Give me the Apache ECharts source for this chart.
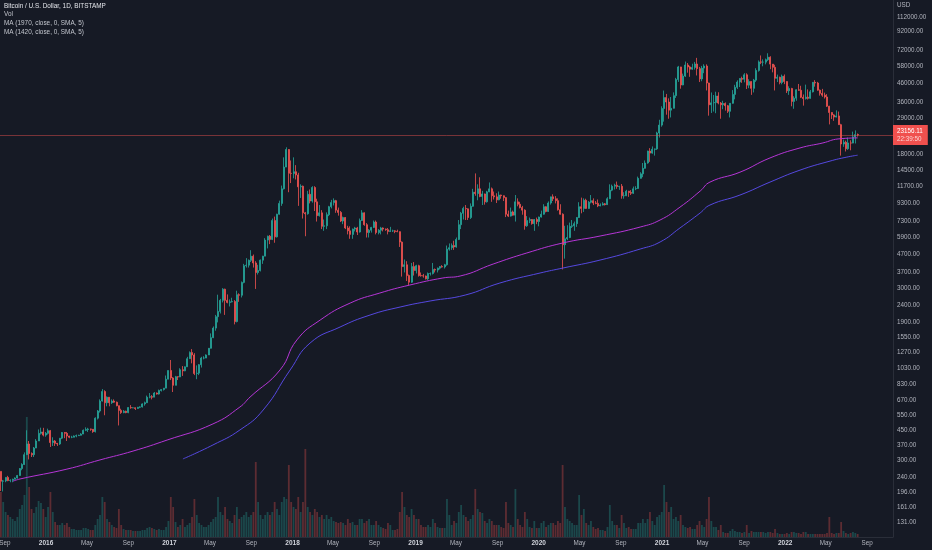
<!DOCTYPE html>
<html>
<head>
<meta charset="utf-8">
<title>Bitcoin / U.S. Dollar, 1D, BITSTAMP</title>
<script src="https://cdn.jsdelivr.net/npm/echarts@6/dist/echarts.min.js"></script>
<style>
  html, body { margin: 0; padding: 0; background: #161a25; }
  #chart { width: 932px; height: 550px; }
</style>
</head>
<body>
<div id="chart"></div>
<script>
// weekly candles, one per week from the week of 2015-08-17
const firstWeek = '2015-08-20';
const firstOpen = 260;

const close = [
  // 2015
  228,229,240,230,231,234,238,246,270,285,325,375,330,325,355,390,432,440,422,432,
  // 2016
  448,382,390,378,375,405,437,432,417,410,410,417,419,421,428,450,455,458,456,442,529,582,665,755,650,700,
  650,665,655,625,587,570,580,570,610,607,608,602,612,615,640,650,700,705,700,740,730,765,775,790,890,1000,
  // 2017
  905,820,920,917,1010,995,1050,1170,1270,1230,960,965,1080,1180,1180,1230,1345,1550,1760,2050,2200,2550,2960,2550,2480,2500,
  2510,1920,2750,2730,3240,4050,4080,4350,4600,4200,3700,3800,4360,4600,5700,6000,5750,7400,5950,8050,9300,11300,15100,19100,13900,13880,
  // 2018
  14200,13600,11600,11700,8200,8100,10500,9600,11500,9500,7900,8200,6850,6900,8000,8900,9400,9650,8500,8250,7350,7700,6700,6450,6150,6600,
  6700,6350,7400,8200,7000,6300,6500,6750,7250,6300,6500,6700,6600,6550,6400,6450,6450,6400,6380,5550,4000,4100,3550,3250,4000,3800,4050,
  // 2019
  3550,3540,3530,3400,3650,3650,3850,3820,3920,4000,3980,4100,5050,5150,5300,5200,5750,7000,8150,8700,8650,7700,8950,10800,10600,
  11300,10200,10550,9500,10850,11300,10300,10150,9750,10400,10300,10050,8050,7850,8300,7950,9500,9200,8800,8500,6900,7400,7500,7100,7500,7300,7750,
  // 2020
  8050,8900,8350,9350,10150,9900,9650,8550,8050,5360,5800,5900,6850,6900,7100,7700,8900,8700,9700,8700,9450,9650,9350,9300,9000,9100,
  9250,9150,9900,11100,11700,11850,11650,11700,10300,10300,10950,10750,10650,11300,11350,13000,13800,14850,15950,18700,18200,19150,19250,23800,26450,33000,
  // 2021
  38200,36000,32300,33100,39200,48600,57500,45200,50900,59000,57500,55800,57100,59800,56200,49000,56600,58200,46400,34700,35600,35800,39000,35500,34700,35300,
  34250,31800,35400,39850,43800,47000,49300,48800,51750,45100,47300,43200,48200,54900,61500,61300,61300,63300,65500,59700,57200,49400,50100,46700,50800,47300,
  // 2022
  41800,43100,36300,37900,42400,42100,38350,37700,38400,37800,41250,46800,46400,42150,40400,39450,38500,34050,31300,30300,29450,29900,
  26600,20550,21050,19300,20850,20800,22600,23300,23156
];

const high = [
  // 2015
  260,232,240,245,234,236,240,248,272,290,335,450,390,335,360,400,455,466,465,440,
  // 2016
  460,452,410,395,380,405,440,440,440,418,418,420,425,424,433,455,468,465,460,457,535,590,680,780,768,707,
  700,680,680,660,625,600,590,585,612,630,612,610,615,620,645,660,715,740,720,750,745,775,780,790,935,1000,
  // 2017
  1150,915,930,925,1030,1060,1055,1200,1290,1330,1260,1070,1090,1200,1210,1240,1350,1640,1800,2100,2750,2600,3000,2980,2760,2580,
  2640,2560,2900,2800,3280,4150,4480,4400,4980,4700,4300,4100,4400,4620,5850,6050,6100,7600,7800,8100,9650,11800,17200,19666,19200,16500,
  // 2018
  17200,15500,14000,12000,11800,8300,11000,11200,11700,11700,9900,9100,8500,7500,8250,9000,9750,9950,9750,8800,8400,7800,7750,6900,6850,6650,
  6800,6800,7600,8500,8250,7150,6600,6800,7400,7400,6600,6800,6750,6650,6700,6800,6550,6500,6550,6400,5600,4400,4300,3600,4200,4250,4100,
  // 2019
  4100,3700,3630,3550,3700,3700,4200,3900,3950,4030,4080,4150,5300,5450,5450,5650,5900,7450,8300,8900,9100,8700,9300,11300,13880,
  12000,13180,11000,10600,11000,12300,11500,10900,10650,10900,10450,10350,10100,8450,8800,8450,10400,9950,9500,9000,8600,7850,7700,7550,7550,7700,7800,
  // 2020
  8450,9200,8950,9550,10180,10500,10250,9950,9200,8150,6900,6950,7200,7450,7300,7750,9450,10050,9950,9900,9600,10400,9950,9600,9800,9300,
  9450,9350,10100,12000,11950,12100,12450,11750,12050,10800,11150,11000,11100,11650,11700,13300,14100,15950,16500,18800,19450,19900,19350,24200,28400,34000,
  // 2021
  41950,40100,37800,38500,40950,49700,58300,57600,52600,61800,60600,58400,60000,61500,64900,57500,58300,59600,59500,46600,40900,39500,41300,41000,36000,36600,
  35800,34600,35500,42200,45300,48100,49500,50500,52900,52800,48800,47500,49000,56500,62700,67000,63600,64300,69000,66300,59800,59200,51900,50500,51900,52000,
  // 2022
  47500,44400,43500,38900,42650,45800,44700,39800,45400,42600,42300,47000,48200,47100,42500,42900,40800,40000,34200,31400,30600,32200,
  31700,26900,21800,21500,22400,21600,24250,24650,23650
];

const low = [
  // 2015
  200,199,225,228,225,225,234,236,245,264,283,325,305,315,315,355,390,425,415,413,
  // 2016
  425,360,365,365,365,370,400,405,390,405,405,410,410,417,420,428,445,440,447,435,437,520,570,660,550,620,
  620,640,650,620,480,560,565,565,565,600,605,590,600,605,610,625,650,690,680,700,725,725,755,765,790,890,
  // 2017
  880,750,820,880,915,930,990,1050,1170,1100,940,890,940,1040,1160,1180,1230,1340,1540,1700,1900,2140,2480,2100,2450,2350,
  2480,1850,1900,2500,2650,3200,3950,3950,4250,3950,2970,3600,3750,4150,4600,5100,5400,5700,5500,5900,8000,9000,11200,15100,10800,12200,
  // 2018
  13000,12800,9000,10000,7600,6000,8000,9300,9400,8400,7300,7800,6600,6450,6600,7850,8700,9050,8200,7900,7250,7050,6600,6150,5800,5800,
  6400,6100,6300,7350,6900,5900,5900,6300,6700,6150,6150,6150,6400,6450,6150,6350,6350,6250,6330,5200,3500,3700,3300,3120,3220,3550,3650,
  // 2019
  3500,3500,3450,3370,3350,3550,3600,3700,3700,3850,3950,3900,4050,4950,5000,5000,5150,5700,6600,7500,7450,7450,7550,8900,10300,
  9700,10100,9100,9150,9400,10800,9500,9800,9350,9700,9900,9600,7750,7750,7800,7900,7300,8950,8700,8000,6550,6800,7150,7000,6450,7050,6850,
  // 2020
  7700,8000,8250,8300,9150,9600,9300,8450,8000,3850,4450,5700,5850,6700,6450,6800,7650,8150,8300,8650,8650,9300,9100,9200,8850,8950,
  9050,9050,9100,9850,10950,11200,11300,11150,9900,9900,10250,10150,10400,10550,11100,11300,12950,13200,14800,15800,16200,18050,17600,19000,22400,25900,
  // 2021
  27700,30400,28800,29300,33000,38000,47100,43000,45000,50300,53250,50400,55300,55500,51300,47000,47500,52900,42000,30000,31100,31700,31000,34900,28800,32700,
  32100,31100,29300,35200,37300,42800,43950,46500,46800,42800,43300,39600,40900,47100,54000,59700,58000,59500,62300,55800,53500,42000,47000,45600,45600,45700,
  // 2022
  40600,39600,34000,32900,36600,41800,37950,34300,37200,37200,37600,40900,44200,41900,39200,38600,37700,33700,26700,28700,28000,29300,
  26500,17600,19800,18600,19000,18900,20750,20700,22700
];

// volume pane, same weeks
const volume = [
  45,35,25,22,20,18,16,20,28,32,42,120,50,28,24,30,36,34,28,20,
  30,45,25,15,12,12,14,12,14,10,8,8,7,7,7,9,9,8,7,7,12,18,22,40,35,18,15,12,10,9,28,12,8,7,7,7,6,6,6,6,7,7,9,10,9,8,7,8,7,7,10,16,
  40,30,15,10,12,18,10,12,14,20,38,22,14,12,10,10,12,15,18,20,40,25,22,30,18,16,14,22,30,18,20,22,25,20,22,25,75,35,22,18,22,25,22,25,35,28,22,35,40,38,72,35,
  30,28,40,25,35,88,30,25,22,28,25,20,22,18,22,18,20,16,15,14,15,14,12,18,14,15,12,12,18,18,14,16,18,12,12,16,12,10,9,8,14,12,7,7,8,25,45,30,22,20,28,22,18,
  18,12,10,10,12,10,18,14,10,9,9,9,38,22,12,16,14,25,32,22,20,16,18,22,48,28,25,24,16,14,18,16,12,12,12,10,9,35,14,12,10,48,18,12,10,25,18,10,9,16,9,9,
  14,16,10,12,14,14,12,16,14,72,30,18,16,14,12,12,42,22,28,14,12,16,10,8,9,7,7,6,10,32,16,12,12,9,22,14,9,10,8,8,8,14,14,18,14,18,25,16,12,20,22,25,
  52,35,25,30,18,20,16,22,12,10,9,10,8,8,12,16,12,10,18,40,16,10,10,7,12,5,4,4,6,8,6,5,5,4,5,12,4,6,5,5,5,5,5,4,5,5,4,8,4,3,3,3,
  4,3,5,5,4,4,3,5,5,3,3,3,3,3,3,3,3,4,20,4,3,4,4,15,6,4,3,4,5,4,3
];

// moving averages as drawn (they need history from before the visible range)
const ma1420Dates = ['2015-09-25','2015-10-16','2016-03-03','2016-06-09','2016-09-15','2016-12-25','2017-05-10','2017-07-29',
  '2017-08-28','2017-11-25','2018-01-14','2018-03-24','2018-06-21','2018-09-17','2018-12-15','2019-03-23','2019-05-13','2019-08-19',
  '2019-11-27','2020-03-13','2020-07-01','2020-10-28','2020-12-26','2021-02-23','2021-04-24','2021-05-23','2021-08-20','2021-11-17',
  '2022-02-14','2022-04-23','2022-06-07','2022-08-04'];
const ma1420 = [228,235,268,303,341,395,490,614,701,1007,1503,1960,2459,2812,3129,3437,3528,4140,
  4800,5486,6016,6785,7450,8850,10970,12360,14110,17060,19500,20850,21990,22300];

const ma1970Dates = ['2017-02-10','2017-05-10','2017-07-29','2017-10-06','2017-12-25','2018-02-22','2018-05-22','2018-08-19',
  '2018-11-16','2019-02-13','2019-05-28','2019-09-08','2020-01-05','2020-03-13','2020-07-01','2020-10-28','2020-12-26','2021-02-23',
  '2021-04-24','2021-05-23','2021-08-20','2021-11-17','2022-02-14','2022-05-14','2022-07-03','2022-08-04'];
const ma1970 = [307,370,452,590,1007,1442,1786,2096,2332,2528,2736,3214,3672,3926,4365,5058,5556,6700,
  8190,9100,10400,12360,14500,16360,17260,17700];

const priceTicks = [112000,92000,72000,58000,46000,36000,29000,18000,14500,11700,9300,7300,5900,4700,3700,3000,
  2400,1900,1550,1270,1030,830,670,550,450,370,300,240,196,161,131];
const timeTicks = ['2015-09-01','2016-01-01','2016-05-01','2016-09-01','2017-01-01','2017-05-01','2017-09-01','2018-01-01',
  '2018-05-01','2018-09-01','2019-01-01','2019-05-01','2019-09-01','2020-01-01','2020-05-01','2020-09-01','2021-01-01',
  '2021-05-01','2021-09-01','2022-01-01','2022-05-01','2022-09-01'];

const lastPrice = 23156.11;
const countdown = '22:39:50';
const xStart = '2015-08-17T12:00:00Z';
const xEnd = '2022-11-16T19:00:00Z';

const UP = '#26a69a';
const DOWN = '#ef5350';
const FONT = '"Liberation Sans", Arial, sans-serif';
const MONTHS = ['Jan','Feb','Mar','Apr','May','Jun','Jul','Aug','Sep','Oct','Nov','Dec'];

const DAY = 86400000;
const t0 = Date.parse(firstWeek + 'T00:00:00Z');
const weeks = close.map((c, i) => t0 + i * 7 * DAY);
const open = close.map((c, i) => (i === 0 ? firstOpen : close[i - 1]));
const candles = close.map((c, i) => [weeks[i], open[i], c, low[i], high[i]]);
const volBars = volume.map((v, i) => ({
  value: [weeks[i], v],
  itemStyle: { color: close[i] >= open[i] ? 'rgba(38,166,154,0.33)' : 'rgba(239,83,80,0.33)' }
}));
const toUtc = s => Date.parse(s + 'T00:00:00Z');
const maLine = (dates, vals) => dates.map((d, i) => [toUtc(d), vals[i]]);

const chart = echarts.init(document.getElementById('chart'));

const legendLines = [
  { text: 'Bitcoin / U.S. Dollar, 1D, BITSTAMP', y: 7, main: true },
  { text: 'Vol', y: 15.5 },
  { text: 'MA (1970, close, 0, SMA, 5)', y: 24.2 },
  { text: 'MA (1420, close, 0, SMA, 5)', y: 32.9 }
];

// time runs on a plain value axis (ms) so the month ticks can be placed exactly
const timeAxis = {
  type: 'value',
  min: Date.parse(xStart),
  max: Date.parse(xEnd),
  scale: true,
  splitLine: { show: false },
  axisTick: { show: false }
};

chart.setOption({
  backgroundColor: '#161a25',
  animation: false,
  textStyle: { fontFamily: FONT },
  graphic: legendLines.map(l => ({
    type: 'text',
    left: 4,
    top: l.y - 4,
    style: {
      text: l.text,
      fill: l.main ? '#e3e5ea' : '#c3c6ce',
      font: '6.4px ' + FONT
    }
  })).concat([{
    type: 'text',
    left: 897,
    top: 2,
    style: { text: 'USD', fill: '#b2b5be', font: '6.3px ' + FONT }
  }]),
  grid: [
    { left: 0, right: 39, top: 0, bottom: 13, outerBoundsMode: 'none' },
    { left: 0, right: 39, top: 380, bottom: 13, outerBoundsMode: 'none' }
  ],
  xAxis: [
    Object.assign({}, timeAxis, {
      gridIndex: 0,
      axisLine: { show: true, lineStyle: { color: '#2a2e39' } },
      axisLabel: {
        customValues: timeTicks.map(toUtc),
        margin: 3,
        formatter: v => {
          const d = new Date(v);
          return d.getUTCMonth() === 0 ? '{y|' + d.getUTCFullYear() + '}' : '{m|' + MONTHS[d.getUTCMonth()] + '}';
        },
        rich: {
          y: { color: '#d1d4dc', fontWeight: 'bold', fontSize: 6.5, fontFamily: FONT },
          m: { color: '#b2b5be', fontSize: 6.3, fontFamily: FONT }
        }
      }
    }),
    Object.assign({}, timeAxis, { gridIndex: 1, show: false })
  ],
  yAxis: [
    {
      type: 'log',
      logBase: 10,
      gridIndex: 0,
      position: 'right',
      min: 108.3,
      max: 140500,
      axisLine: { show: true, lineStyle: { color: '#2a2e39' } },
      axisTick: { show: false },
      splitLine: { show: false },
      axisLabel: {
        customValues: priceTicks,
        margin: 4,
        color: '#b2b5be',
        fontSize: 6.3,
        fontFamily: FONT,
        formatter: v => Number(v).toFixed(2)
      }
    },
    {
      type: 'value',
      gridIndex: 1,
      min: 0,
      max: 157,
      show: false,
      splitLine: { show: false }
    }
  ],
  series: [
    {
      name: 'Vol',
      type: 'bar',
      xAxisIndex: 1,
      yAxisIndex: 1,
      barWidth: 1.8,
      z: 1,
      data: volBars
    },
    {
      name: 'BTCUSD',
      type: 'candlestick',
      xAxisIndex: 0,
      yAxisIndex: 0,
      barWidth: 1.5,
      z: 2,
      itemStyle: {
        color: UP,
        color0: DOWN,
        borderColor: UP,
        borderColor0: DOWN,
        borderWidth: 0.8
      },
      data: candles,
      markLine: {
        silent: true,
        symbol: 'none',
        animation: false,
        lineStyle: { color: 'rgba(239,83,80,0.45)', width: 1, type: 'solid' },
        label: {
          position: 'end',
          distance: 0,
          formatter: lastPrice.toFixed(2) + '\n{c|' + countdown + '}',
          backgroundColor: '#f0504e',
          color: '#ffffff',
          fontSize: 6.3,
          lineHeight: 8,
          fontFamily: FONT,
          padding: [2, 5, 2, 4],
          rich: { c: { color: '#fbd3d2', fontSize: 6.3, lineHeight: 8, fontFamily: FONT } }
        },
        data: [[
          { coord: [Date.parse(xStart), lastPrice] },
          { coord: [Date.parse(xEnd), lastPrice] }
        ]]
      }
    },
    {
      name: 'MA (1970, close, 0, SMA, 5)',
      type: 'line',
      xAxisIndex: 0,
      yAxisIndex: 0,
      smooth: 0.5,
      showSymbol: false,
      z: 3,
      lineStyle: { color: '#5548e0', width: 1 },
      data: maLine(ma1970Dates, ma1970)
    },
    {
      name: 'MA (1420, close, 0, SMA, 5)',
      type: 'line',
      xAxisIndex: 0,
      yAxisIndex: 0,
      smooth: 0.5,
      showSymbol: false,
      z: 3,
      lineStyle: { color: '#b535d6', width: 1 },
      data: maLine(ma1420Dates, ma1420)
    }
  ]
});
</script>
</body>
</html>
